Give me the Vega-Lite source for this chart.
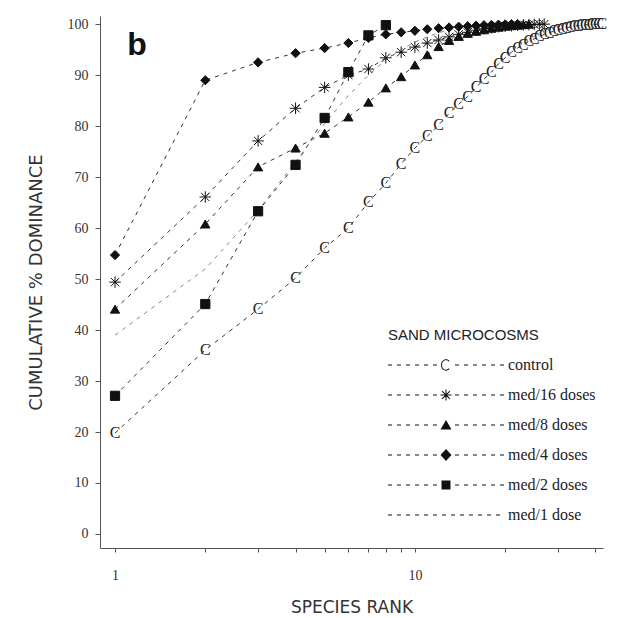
{
  "$schema": "https://vega.github.io/schema/vega-lite/v6.json",
  "width": 503,
  "height": 532,
  "autosize": {"type": "none"},
  "padding": {"left": 100, "top": 16, "right": 19, "bottom": 70},
  "background": "white",
  "config": {"view": {"stroke": null}, "axis": {"grid": false}},
  "datasets": {
    "curves": [
      {"series": "control", "rank": 1, "value": 19.8},
      {"series": "control", "rank": 2, "value": 36.1},
      {"series": "control", "rank": 3, "value": 44.1},
      {"series": "control", "rank": 4, "value": 50.2},
      {"series": "control", "rank": 5, "value": 56.1},
      {"series": "control", "rank": 6, "value": 60.0},
      {"series": "control", "rank": 7, "value": 65.1},
      {"series": "control", "rank": 8, "value": 68.8},
      {"series": "control", "rank": 9, "value": 72.6},
      {"series": "control", "rank": 10, "value": 75.7},
      {"series": "control", "rank": 11, "value": 78.0},
      {"series": "control", "rank": 12, "value": 80.2},
      {"series": "control", "rank": 13, "value": 82.5},
      {"series": "control", "rank": 14, "value": 84.3},
      {"series": "control", "rank": 15, "value": 85.8},
      {"series": "control", "rank": 16, "value": 87.6},
      {"series": "control", "rank": 17, "value": 89.2},
      {"series": "control", "rank": 18, "value": 90.6},
      {"series": "control", "rank": 19, "value": 92.2},
      {"series": "control", "rank": 20, "value": 93.4},
      {"series": "control", "rank": 21, "value": 94.5},
      {"series": "control", "rank": 22, "value": 95.3},
      {"series": "control", "rank": 23, "value": 96.0},
      {"series": "control", "rank": 24, "value": 96.6},
      {"series": "control", "rank": 25, "value": 97.1},
      {"series": "control", "rank": 26, "value": 97.6},
      {"series": "control", "rank": 27, "value": 98.0},
      {"series": "control", "rank": 28, "value": 98.3},
      {"series": "control", "rank": 29, "value": 98.6},
      {"series": "control", "rank": 30, "value": 98.9},
      {"series": "control", "rank": 31, "value": 99.1},
      {"series": "control", "rank": 32, "value": 99.3},
      {"series": "control", "rank": 33, "value": 99.45},
      {"series": "control", "rank": 34, "value": 99.6},
      {"series": "control", "rank": 35, "value": 99.7},
      {"series": "control", "rank": 36, "value": 99.8},
      {"series": "control", "rank": 37, "value": 99.85},
      {"series": "control", "rank": 38, "value": 99.9},
      {"series": "control", "rank": 39, "value": 99.95},
      {"series": "control", "rank": 40, "value": 99.97},
      {"series": "control", "rank": 41, "value": 100},
      {"series": "control", "rank": 42, "value": 100},
      {"series": "med/16 doses", "rank": 1, "value": 49.4},
      {"series": "med/16 doses", "rank": 2, "value": 66.1},
      {"series": "med/16 doses", "rank": 3, "value": 77.1},
      {"series": "med/16 doses", "rank": 4, "value": 83.5},
      {"series": "med/16 doses", "rank": 5, "value": 87.6},
      {"series": "med/16 doses", "rank": 6, "value": 90.0},
      {"series": "med/16 doses", "rank": 7, "value": 91.2},
      {"series": "med/16 doses", "rank": 8, "value": 93.4},
      {"series": "med/16 doses", "rank": 9, "value": 94.5},
      {"series": "med/16 doses", "rank": 10, "value": 95.5},
      {"series": "med/16 doses", "rank": 11, "value": 96.3},
      {"series": "med/16 doses", "rank": 12, "value": 96.9},
      {"series": "med/16 doses", "rank": 13, "value": 97.5},
      {"series": "med/16 doses", "rank": 14, "value": 98.0},
      {"series": "med/16 doses", "rank": 15, "value": 98.4},
      {"series": "med/16 doses", "rank": 16, "value": 98.8},
      {"series": "med/16 doses", "rank": 17, "value": 99.1},
      {"series": "med/16 doses", "rank": 18, "value": 99.3},
      {"series": "med/16 doses", "rank": 19, "value": 99.5},
      {"series": "med/16 doses", "rank": 20, "value": 99.6},
      {"series": "med/16 doses", "rank": 21, "value": 99.7},
      {"series": "med/16 doses", "rank": 22, "value": 99.8},
      {"series": "med/16 doses", "rank": 23, "value": 99.85},
      {"series": "med/16 doses", "rank": 24, "value": 99.9},
      {"series": "med/16 doses", "rank": 25, "value": 99.95},
      {"series": "med/16 doses", "rank": 26, "value": 100},
      {"series": "med/16 doses", "rank": 27, "value": 100},
      {"series": "med/8 doses", "rank": 1, "value": 44.1},
      {"series": "med/8 doses", "rank": 2, "value": 60.8},
      {"series": "med/8 doses", "rank": 3, "value": 72.0},
      {"series": "med/8 doses", "rank": 4, "value": 75.7},
      {"series": "med/8 doses", "rank": 5, "value": 78.6},
      {"series": "med/8 doses", "rank": 6, "value": 81.8},
      {"series": "med/8 doses", "rank": 7, "value": 84.7},
      {"series": "med/8 doses", "rank": 8, "value": 87.5},
      {"series": "med/8 doses", "rank": 9, "value": 89.7},
      {"series": "med/8 doses", "rank": 10, "value": 92.0},
      {"series": "med/8 doses", "rank": 11, "value": 94.0},
      {"series": "med/8 doses", "rank": 12, "value": 95.6},
      {"series": "med/8 doses", "rank": 13, "value": 96.8},
      {"series": "med/8 doses", "rank": 14, "value": 97.6},
      {"series": "med/8 doses", "rank": 15, "value": 98.2},
      {"series": "med/8 doses", "rank": 16, "value": 98.6},
      {"series": "med/8 doses", "rank": 17, "value": 98.9},
      {"series": "med/8 doses", "rank": 18, "value": 99.2},
      {"series": "med/8 doses", "rank": 19, "value": 99.4},
      {"series": "med/8 doses", "rank": 20, "value": 99.6},
      {"series": "med/8 doses", "rank": 21, "value": 99.7},
      {"series": "med/8 doses", "rank": 22, "value": 99.8},
      {"series": "med/8 doses", "rank": 23, "value": 99.9},
      {"series": "med/8 doses", "rank": 24, "value": 100},
      {"series": "med/4 doses", "rank": 1, "value": 54.7},
      {"series": "med/4 doses", "rank": 2, "value": 89.0},
      {"series": "med/4 doses", "rank": 3, "value": 92.5},
      {"series": "med/4 doses", "rank": 4, "value": 94.3},
      {"series": "med/4 doses", "rank": 5, "value": 95.3},
      {"series": "med/4 doses", "rank": 6, "value": 96.3},
      {"series": "med/4 doses", "rank": 7, "value": 97.3},
      {"series": "med/4 doses", "rank": 8, "value": 98.0},
      {"series": "med/4 doses", "rank": 9, "value": 98.4},
      {"series": "med/4 doses", "rank": 10, "value": 98.7},
      {"series": "med/4 doses", "rank": 11, "value": 99.0},
      {"series": "med/4 doses", "rank": 12, "value": 99.2},
      {"series": "med/4 doses", "rank": 13, "value": 99.35},
      {"series": "med/4 doses", "rank": 14, "value": 99.5},
      {"series": "med/4 doses", "rank": 15, "value": 99.6},
      {"series": "med/4 doses", "rank": 16, "value": 99.7},
      {"series": "med/4 doses", "rank": 17, "value": 99.8},
      {"series": "med/4 doses", "rank": 18, "value": 99.85},
      {"series": "med/4 doses", "rank": 19, "value": 99.9},
      {"series": "med/4 doses", "rank": 20, "value": 99.95},
      {"series": "med/4 doses", "rank": 21, "value": 100},
      {"series": "med/4 doses", "rank": 22, "value": 100},
      {"series": "med/2 doses", "rank": 1, "value": 27.1},
      {"series": "med/2 doses", "rank": 2, "value": 45.1},
      {"series": "med/2 doses", "rank": 3, "value": 63.3},
      {"series": "med/2 doses", "rank": 4, "value": 72.4},
      {"series": "med/2 doses", "rank": 5, "value": 81.6},
      {"series": "med/2 doses", "rank": 6, "value": 90.6},
      {"series": "med/2 doses", "rank": 7, "value": 97.8},
      {"series": "med/2 doses", "rank": 8, "value": 99.8},
      {"series": "med/1 dose", "rank": 1, "value": 39.0},
      {"series": "med/1 dose", "rank": 2, "value": 52.0},
      {"series": "med/1 dose", "rank": 3, "value": 63.5},
      {"series": "med/1 dose", "rank": 4, "value": 73.0},
      {"series": "med/1 dose", "rank": 5, "value": 80.5},
      {"series": "med/1 dose", "rank": 6, "value": 86.0},
      {"series": "med/1 dose", "rank": 7, "value": 90.0},
      {"series": "med/1 dose", "rank": 8, "value": 93.0},
      {"series": "med/1 dose", "rank": 9, "value": 95.0},
      {"series": "med/1 dose", "rank": 10, "value": 96.5},
      {"series": "med/1 dose", "rank": 11, "value": 97.5},
      {"series": "med/1 dose", "rank": 12, "value": 98.3},
      {"series": "med/1 dose", "rank": 13, "value": 98.9},
      {"series": "med/1 dose", "rank": 14, "value": 99.3},
      {"series": "med/1 dose", "rank": 15, "value": 99.6},
      {"series": "med/1 dose", "rank": 16, "value": 99.8},
      {"series": "med/1 dose", "rank": 17, "value": 100}
    ],
    "tag": [{"label": "b", "rank": 1.184, "value": 95.9}]
  },
  "encoding": {
    "x": {
      "field": "rank",
      "type": "quantitative",
      "scale": {"type": "log", "domain": [0.891, 42.4], "nice": false},
      "axis": {
        "title": "SPECIES RANK",
        "values": [1, 2, 3, 4, 5, 6, 7, 8, 9, 10, 20, 30, 40],
        "labelExpr": "(datum.value == 1 || datum.value == 10) ? format(datum.value, 'd') : ''",
        "domainColor": "#555",
        "tickColor": "#555",
        "tickSize": 4,
        "labelFont": "Liberation Serif",
        "labelFontSize": 14,
        "labelColor": "#333",
        "labelPadding": 16,
        "titleFont": "DejaVu Sans",
        "titleFontSize": 17,
        "titleFontWeight": "normal",
        "titleColor": "#333",
        "titlePadding": 17
      }
    },
    "y": {
      "field": "value",
      "type": "quantitative",
      "scale": {"domain": [-2.75, 101.6], "nice": false, "zero": false},
      "axis": {
        "title": "CUMULATIVE % DOMINANCE",
        "values": [0, 10, 20, 30, 40, 50, 60, 70, 80, 90, 100],
        "domainColor": "#555",
        "tickColor": "#555",
        "tickSize": 5,
        "labelFont": "Liberation Serif",
        "labelFontSize": 14,
        "labelColor": "#333",
        "labelPadding": 7,
        "titleFont": "DejaVu Sans",
        "titleFontSize": 18,
        "titleFontWeight": "normal",
        "titleColor": "#333",
        "titlePadding": 22
      }
    }
  },
  "layer": [
    {
      "data": {"name": "curves"},
      "mark": {"type": "line", "strokeDash": [4, 5], "strokeWidth": 1, "clip": false},
      "encoding": {
        "detail": {"field": "series", "type": "nominal"},
        "stroke": {
          "field": "series",
          "type": "nominal",
          "scale": {
            "domain": ["control", "med/16 doses", "med/8 doses", "med/4 doses", "med/2 doses", "med/1 dose"],
            "range": ["#333", "#333", "#333", "#333", "#333", "#888"]
          },
          "legend": null
        }
      }
    },
    {
      "data": {"name": "curves"},
      "transform": [{"filter": "datum.series != 'control' && datum.series != 'med/1 dose'"}],
      "mark": {"type": "point", "filled": true, "fill": "#111", "stroke": "#111", "strokeWidth": 1, "opacity": 1, "size": 85, "clip": false},
      "encoding": {
        "shape": {
          "field": "series",
          "type": "nominal",
          "scale": {
            "domain": ["med/16 doses", "med/8 doses", "med/4 doses", "med/2 doses"],
            "range": ["M0,-1.25L0,1.25M-1.25,0L1.25,0M-0.9,-0.9L0.9,0.9M-0.9,0.9L0.9,-0.9", "triangle-up", "diamond", "square"]
          },
          "legend": null
        }
      }
    },
    {
      "data": {"name": "curves"},
      "transform": [{"filter": "datum.series == 'control'"}],
      "mark": {"type": "text", "text": "C", "font": "Liberation Serif", "fontSize": 16, "color": "#222", "align": "center", "baseline": "middle", "clip": false}
    },
    {
      "data": {"name": "curves"},
      "transform": [{"filter": "datum.rank == 1"}],
      "mark": {"type": "point", "filled": true, "fill": "#111", "stroke": "#111", "strokeWidth": 1, "opacity": 0},
      "encoding": {
        "shape": {
          "field": "series",
          "type": "nominal",
          "scale": {
            "domain": ["control", "med/16 doses", "med/8 doses", "med/4 doses", "med/2 doses", "med/1 dose"],
            "range": [
              "M-1.6,-0.1L-0.8,-0.1L-0.8,0.1L-1.6,0.1ZM0.2,-0.1L1,-0.1L1,0.1L0.2,0.1ZM2,-0.1L2.8,-0.1L2.8,0.1L2,0.1ZM3.8,-0.1L4.6,-0.1L4.6,0.1L3.8,0.1ZM5.6,-0.1L6.4,-0.1L6.4,0.1L5.6,0.1ZM7.4,-0.1L8.2,-0.1L8.2,0.1L7.4,0.1ZM10.71,-0.81A1,1.15 0 1 0 10.71,0.81L10.57,0.67A0.8,0.95 0 1 1 10.57,-0.67ZM11.8,-0.1L12.6,-0.1L12.6,0.1L11.8,0.1ZM13.6,-0.1L14.4,-0.1L14.4,0.1L13.6,0.1ZM15.4,-0.1L16.2,-0.1L16.2,0.1L15.4,0.1ZM17.2,-0.1L18,-0.1L18,0.1L17.2,0.1ZM19,-0.1L19.8,-0.1L19.8,0.1L19,0.1ZM20.8,-0.1L21.6,-0.1L21.6,0.1L20.8,0.1Z",
              "M-1.6,-0.1L-0.8,-0.1L-0.8,0.1L-1.6,0.1ZM0.2,-0.1L1,-0.1L1,0.1L0.2,0.1ZM2,-0.1L2.8,-0.1L2.8,0.1L2,0.1ZM3.8,-0.1L4.6,-0.1L4.6,0.1L3.8,0.1ZM5.6,-0.1L6.4,-0.1L6.4,0.1L5.6,0.1ZM7.4,-0.1L8.2,-0.1L8.2,0.1L7.4,0.1ZM9.9,-1.1L10.1,-1.1L10.1,1.1L9.9,1.1ZM8.9,-0.1L11.1,-0.1L11.1,0.1L8.9,0.1ZM9.29,-0.85L10.85,0.71L10.71,0.85L9.15,-0.71ZM9.15,0.71L10.71,-0.85L10.85,-0.71L9.29,0.85ZM11.8,-0.1L12.6,-0.1L12.6,0.1L11.8,0.1ZM13.6,-0.1L14.4,-0.1L14.4,0.1L13.6,0.1ZM15.4,-0.1L16.2,-0.1L16.2,0.1L15.4,0.1ZM17.2,-0.1L18,-0.1L18,0.1L17.2,0.1ZM19,-0.1L19.8,-0.1L19.8,0.1L19,0.1ZM20.8,-0.1L21.6,-0.1L21.6,0.1L20.8,0.1Z",
              "M-1.6,-0.1L-0.8,-0.1L-0.8,0.1L-1.6,0.1ZM0.2,-0.1L1,-0.1L1,0.1L0.2,0.1ZM2,-0.1L2.8,-0.1L2.8,0.1L2,0.1ZM3.8,-0.1L4.6,-0.1L4.6,0.1L3.8,0.1ZM5.6,-0.1L6.4,-0.1L6.4,0.1L5.6,0.1ZM7.4,-0.1L8.2,-0.1L8.2,0.1L7.4,0.1ZM10,-1L11.1,0.9L8.9,0.9ZM11.8,-0.1L12.6,-0.1L12.6,0.1L11.8,0.1ZM13.6,-0.1L14.4,-0.1L14.4,0.1L13.6,0.1ZM15.4,-0.1L16.2,-0.1L16.2,0.1L15.4,0.1ZM17.2,-0.1L18,-0.1L18,0.1L17.2,0.1ZM19,-0.1L19.8,-0.1L19.8,0.1L19,0.1ZM20.8,-0.1L21.6,-0.1L21.6,0.1L20.8,0.1Z",
              "M-1.6,-0.1L-0.8,-0.1L-0.8,0.1L-1.6,0.1ZM0.2,-0.1L1,-0.1L1,0.1L0.2,0.1ZM2,-0.1L2.8,-0.1L2.8,0.1L2,0.1ZM3.8,-0.1L4.6,-0.1L4.6,0.1L3.8,0.1ZM5.6,-0.1L6.4,-0.1L6.4,0.1L5.6,0.1ZM7.4,-0.1L8.2,-0.1L8.2,0.1L7.4,0.1ZM10,-1.2L11.1,0L10,1.2L8.9,0ZM11.8,-0.1L12.6,-0.1L12.6,0.1L11.8,0.1ZM13.6,-0.1L14.4,-0.1L14.4,0.1L13.6,0.1ZM15.4,-0.1L16.2,-0.1L16.2,0.1L15.4,0.1ZM17.2,-0.1L18,-0.1L18,0.1L17.2,0.1ZM19,-0.1L19.8,-0.1L19.8,0.1L19,0.1ZM20.8,-0.1L21.6,-0.1L21.6,0.1L20.8,0.1Z",
              "M-1.6,-0.1L-0.8,-0.1L-0.8,0.1L-1.6,0.1ZM0.2,-0.1L1,-0.1L1,0.1L0.2,0.1ZM2,-0.1L2.8,-0.1L2.8,0.1L2,0.1ZM3.8,-0.1L4.6,-0.1L4.6,0.1L3.8,0.1ZM5.6,-0.1L6.4,-0.1L6.4,0.1L5.6,0.1ZM7.4,-0.1L8.2,-0.1L8.2,0.1L7.4,0.1ZM9.1,-0.9L10.9,-0.9L10.9,0.9L9.1,0.9ZM11.8,-0.1L12.6,-0.1L12.6,0.1L11.8,0.1ZM13.6,-0.1L14.4,-0.1L14.4,0.1L13.6,0.1ZM15.4,-0.1L16.2,-0.1L16.2,0.1L15.4,0.1ZM17.2,-0.1L18,-0.1L18,0.1L17.2,0.1ZM19,-0.1L19.8,-0.1L19.8,0.1L19,0.1ZM20.8,-0.1L21.6,-0.1L21.6,0.1L20.8,0.1Z",
              "M-1.6,-0.1L-0.8,-0.1L-0.8,0.1L-1.6,0.1ZM0.2,-0.1L1,-0.1L1,0.1L0.2,0.1ZM2,-0.1L2.8,-0.1L2.8,0.1L2,0.1ZM3.8,-0.1L4.6,-0.1L4.6,0.1L3.8,0.1ZM5.6,-0.1L6.4,-0.1L6.4,0.1L5.6,0.1ZM7.4,-0.1L8.2,-0.1L8.2,0.1L7.4,0.1ZM9.2,-0.1L10,-0.1L10,0.1L9.2,0.1ZM11,-0.1L11.8,-0.1L11.8,0.1L11,0.1ZM12.8,-0.1L13.6,-0.1L13.6,0.1L12.8,0.1ZM14.6,-0.1L15.4,-0.1L15.4,0.1L14.6,0.1ZM16.4,-0.1L17.2,-0.1L17.2,0.1L16.4,0.1ZM18.2,-0.1L19,-0.1L19,0.1L18.2,0.1ZM20,-0.1L20.8,-0.1L20.8,0.1L20,0.1Z"
            ]
          },
          "legend": {
            "title": "SAND MICROCOSMS",
            "orient": "none",
            "legendX": 288,
            "legendY": 312,
            "padding": 0,
            "titleFont": "Liberation Sans",
            "titleFontSize": 15,
            "titleFontWeight": "normal",
            "titleColor": "#222",
            "titlePadding": 14,
            "labelFont": "Liberation Serif",
            "labelFontSize": 16,
            "labelColor": "#222",
            "labelOffset": 104,
            "labelLimit": 300,
            "symbolSize": 100,
            "symbolOpacity": 1,
            "symbolFillColor": "#111",
            "symbolStrokeColor": "#333",
            "symbolStrokeWidth": 1,
            "rowPadding": 14,
            "encode": {
              "symbols": {
                "fill": {"value": "#1a1a1a"},
                "opacity": {"value": 1}
              }
            }
          }
        }
      }
    },
    {
      "data": {"name": "tag"},
      "mark": {"type": "text", "font": "Liberation Sans", "fontWeight": "bold", "fontSize": 32, "color": "#111", "align": "center", "baseline": "middle"},
      "encoding": {"text": {"field": "label", "type": "nominal"}}
    }
  ],
  "resolve": {"scale": {"shape": "independent"}}
}
